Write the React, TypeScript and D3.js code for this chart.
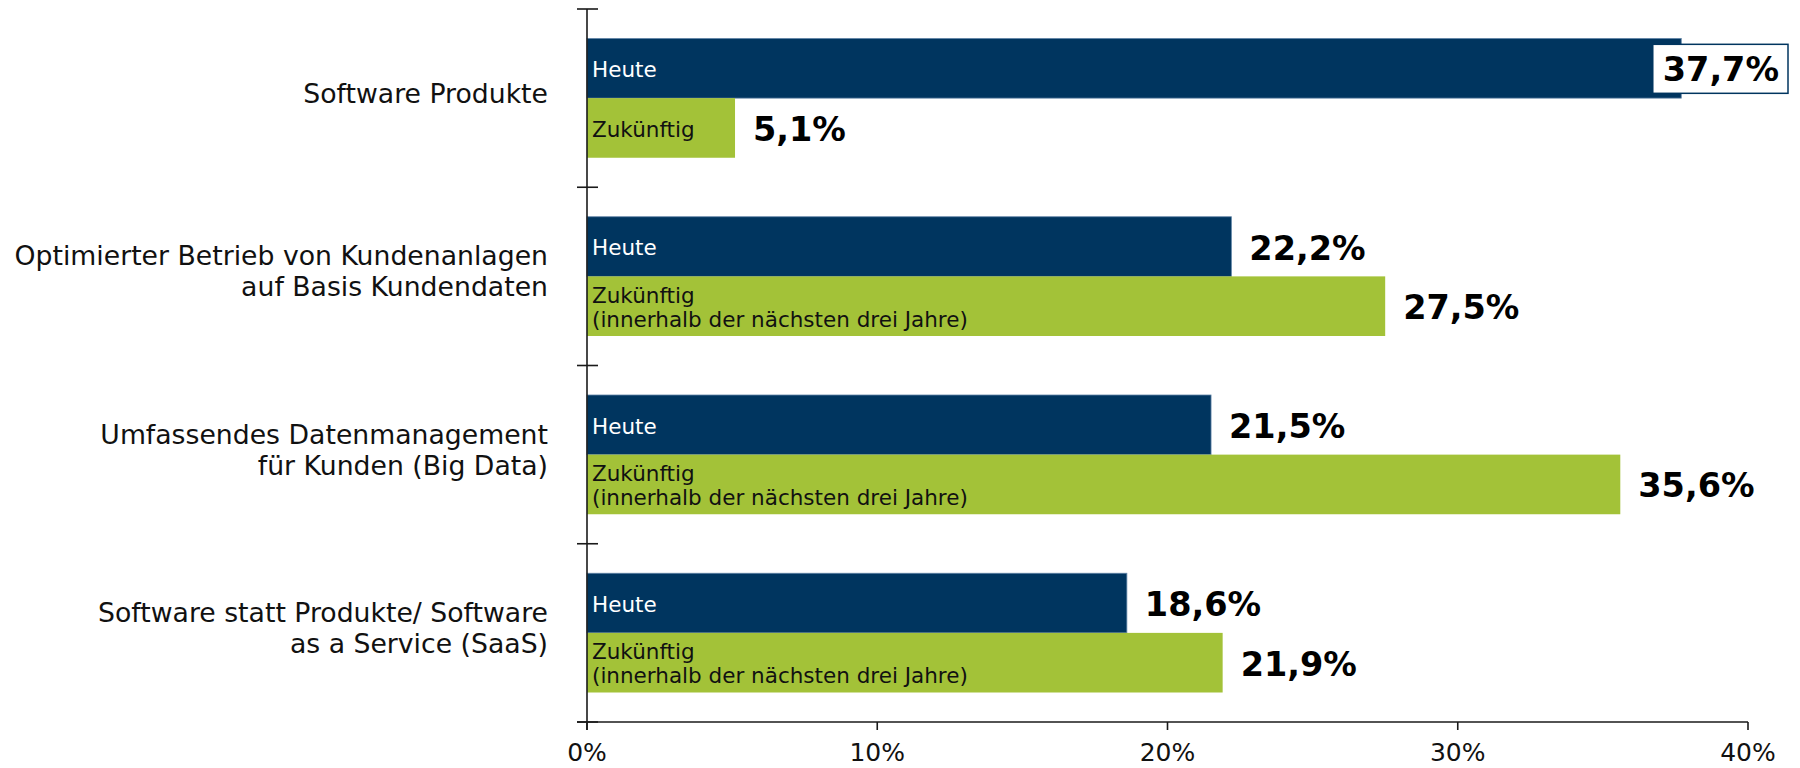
import React, { useEffect, useRef } from "react";
import * as d3 from "d3";

const categories: string[][] = [
  ["Software Produkte"],
  ["Optimierter Betrieb von Kundenanlagen", "auf Basis Kundendaten"],
  ["Umfassendes Datenmanagement", "für Kunden (Big Data)"],
  ["Software statt Produkte/ Software", "as a Service (SaaS)"],
];
const seriesKeys = ["Heute", "Zukünftig"];
const heuteValues = [37.7, 22.2, 21.5, 18.6];
const zukuenftigValues = [5.1, 27.5, 35.6, 21.9];
const heuteInnerLabels = [["Heute"], ["Heute"], ["Heute"], ["Heute"]];
const zukuenftigInnerLabels = [
  ["Zukünftig"],
  ["Zukünftig", "(innerhalb der nächsten drei Jahre)"],
  ["Zukünftig", "(innerhalb der nächsten drei Jahre)"],
  ["Zukünftig", "(innerhalb der nächsten drei Jahre)"],
];
const xTicks = [0, 10, 20, 30, 40];

const W = 1800;
const H = 768;
const FONT = "'DejaVu Sans', Verdana, sans-serif";
const NAVY = "#00355F";
const GREEN = "#A3C238";

export default function App() {
  const ref = useRef<SVGSVGElement>(null);

  useEffect(() => {
    const svg = d3.select(ref.current);
    svg.selectAll("*").remove();

    const x0 = 587;
    const x1 = 1748;
    const yTop = 9;
    const yBot = 722;

    const x = d3.scaleLinear().domain([0, 40]).range([x0, x1]);
    const yCat = d3
      .scaleBand<number>()
      .domain(d3.range(categories.length))
      .range([yTop, yBot])
      .padding(0);
    const bw = yCat.bandwidth();
    const ySer = d3
      .scaleBand<string>()
      .domain(seriesKeys)
      .range([bw * 0.1655, bw * 0.8345])
      .padding(0);

    const fmt = (v: number) => d3.format(".1f")(v).replace(".", ",") + "%";

    const rows = categories.map((c, i) => ({
      i,
      series: [
        { key: "Heute", value: heuteValues[i], color: NAVY, inner: heuteInnerLabels[i], innerColor: "#ffffff" },
        { key: "Zukünftig", value: zukuenftigValues[i], color: GREEN, inner: zukuenftigInnerLabels[i], innerColor: "#111111" },
      ],
    }));

    const g = svg.append("g");

    // bars
    rows.forEach((r) => {
      const by = yCat(r.i)!;
      r.series.forEach((s) => {
        const y = by + ySer(s.key)!;
        const h = ySer.bandwidth();
        g.append("rect")
          .attr("x", x(0))
          .attr("y", y)
          .attr("width", x(s.value) - x(0))
          .attr("height", h)
          .attr("fill", s.color)
          .attr("stroke", s.key === "Heute" ? "#5f83a6" : "none")
          .attr("stroke-width", s.key === "Heute" ? 0.8 : 0);

        // inner labels
        const lh = 24;
        const n = s.inner.length;
        const cy = y + h / 2 + 1;
        s.inner.forEach((line, li) => {
          g.append("text")
            .attr("x", x(0) + 5)
            .attr("y", cy + (li - (n - 1) / 2) * lh)
            .attr("dy", "0.36em")
            .attr("font-family", FONT)
            .attr("font-size", 21.5)
            .attr("fill", s.innerColor)
            .text(line);
        });

        // value labels
        const t = g
          .append("text")
          .attr("x", x(s.value) + 18)
          .attr("y", cy)
          .attr("dy", "0.36em")
          .attr("font-family", FONT)
          .attr("font-weight", "bold")
          .attr("font-size", 33.5)
          .attr("fill", "#000")
          .text(fmt(s.value));
        const tw = (t.node() as SVGTextElement).getComputedTextLength();
        const limit = 1779;
        if (x(s.value) + 18 + tw > limit) {
          const tx = limit - tw;
          t.attr("x", tx);
          g.insert("rect", function () {
            return t.node() as any;
          })
            .attr("x", tx - 10)
            .attr("y", cy - 25)
            .attr("width", tw + 19)
            .attr("height", 49)
            .attr("fill", "#ffffff")
            .attr("stroke", NAVY)
            .attr("stroke-width", 1.5);
        }
      });
    });

    // category labels
    rows.forEach((r) => {
      const lines = categories[r.i];
      const cy = yCat(r.i)! + bw / 2 - 5;
      const lh = 31;
      lines.forEach((line, li) => {
        g.append("text")
          .attr("x", 548)
          .attr("y", cy + (li - (lines.length - 1) / 2) * lh)
          .attr("dy", "0.36em")
          .attr("text-anchor", "end")
          .attr("font-family", FONT)
          .attr("font-size", 26.7)
          .attr("fill", "#111")
          .text(line);
      });
    });

    // y axis
    const axisColor = "#1a1a1a";
    g.append("line")
      .attr("x1", x0).attr("x2", x0)
      .attr("y1", yTop).attr("y2", yBot + 8)
      .attr("stroke", axisColor).attr("stroke-width", 1.6);
    const yTickPos = d3.range(categories.length + 1).map((k) => yTop + k * bw);
    yTickPos.forEach((p) => {
      g.append("line")
        .attr("x1", x0 - 10).attr("x2", x0 + 11)
        .attr("y1", p).attr("y2", p)
        .attr("stroke", axisColor).attr("stroke-width", 1.6);
    });

    // x axis
    g.append("line")
      .attr("x1", x0 - 10).attr("x2", x1)
      .attr("y1", yBot).attr("y2", yBot)
      .attr("stroke", axisColor).attr("stroke-width", 1.6);
    xTicks.forEach((tv) => {
      g.append("line")
        .attr("x1", x(tv)).attr("x2", x(tv))
        .attr("y1", yBot).attr("y2", yBot + 8)
        .attr("stroke", axisColor).attr("stroke-width", 1.6);
      g.append("text")
        .attr("x", x(tv))
        .attr("y", 761)
        .attr("text-anchor", "middle")
        .attr("font-family", FONT)
        .attr("font-size", 25)
        .attr("fill", "#111")
        .text(tv + "%");
    });
  }, []);

  return (
    <svg
      ref={ref}
      width={W}
      height={H}
      style={{ position: "absolute", left: 0, top: 0, background: "#fff" }}
    />
  );
}
